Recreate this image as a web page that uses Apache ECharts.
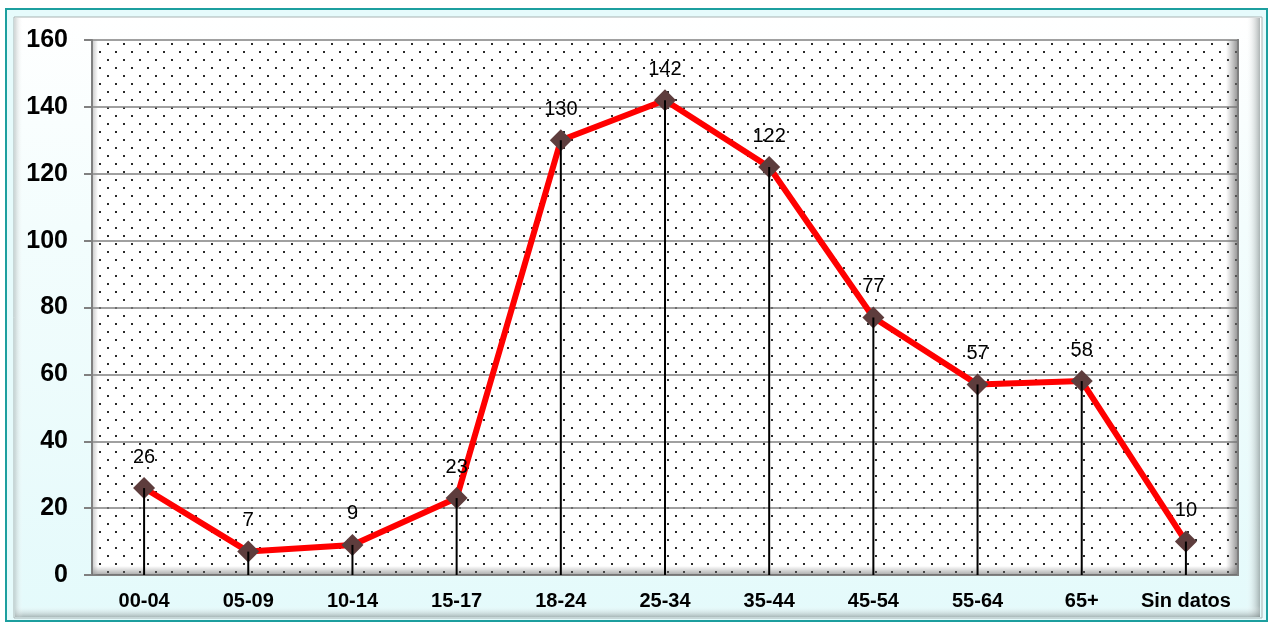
<!DOCTYPE html>
<html>
<head>
<meta charset="utf-8">
<script src="https://cdn.jsdelivr.net/npm/echarts@6/dist/echarts.min.js"></script>
<style>
html,body{margin:0;padding:0;background:#fff;}
#chart{width:1271px;height:623px;}
</style>
</head>
<body>
<div id="chart"></div>
<script>
const categories = ['00-04','05-09','10-14','15-17','18-24','25-34','35-44','45-54','55-64','65+','Sin datos'];
const values = [26, 7, 9, 23, 130, 142, 122, 77, 57, 58, 10];
const yMin = 0, yMax = 160, yStep = 20;

// dotted pattern for plot area
const pat = document.createElement('canvas');
pat.width = 16; pat.height = 16;
const pc = pat.getContext('2d');
pc.fillStyle = '#ffffff';
pc.fillRect(0, 0, 16, 16);
pc.fillStyle = '#2a2a2a';
pc.fillRect(3, 3, 2, 2);
pc.fillRect(11, 11, 2, 2);

const FONT = '"Liberation Sans", Arial, sans-serif';
const chart = echarts.init(document.getElementById('chart'), null, {renderer: 'canvas'});

const grid = {left: 92, top: 40, right: 33, bottom: 48};

chart.setOption({
  animation: false,
  backgroundColor: '#ffffff',
  graphic: [
    {type: 'rect', z: -10, shape: {x: 6, y: 9, width: 1261, height: 612},
     style: {fill: '#e6fbfc', stroke: '#1c9f9f', lineWidth: 2}},
    {type: 'rect', z: -9, shape: {x: 14, y: 17, width: 1248, height: 601},
     style: {fill: new echarts.graphic.LinearGradient(0, 0, 0, 1, [
        {offset: 0, color: '#ffffff'}, {offset: 0.35, color: '#f3fdfd'}, {offset: 1, color: '#e4fafb'}]),
       stroke: '#a9b3b3', lineWidth: 1}},
    {type: 'rect', z: -8, shape: {x: 1246, y: 18, width: 14, height: 599},
     style: {fill: new echarts.graphic.LinearGradient(0, 0, 1, 0, [
        {offset: 0, color: 'rgba(255,255,255,0)'}, {offset: 1, color: 'rgba(120,130,130,0.6)'}])}},
    {type: 'rect', z: -8, shape: {x: 15, y: 606, width: 1245, height: 11},
     style: {fill: new echarts.graphic.LinearGradient(0, 0, 0, 1, [
        {offset: 0, color: 'rgba(255,255,255,0)'}, {offset: 1, color: 'rgba(120,130,130,0.55)'}])}},
    {type: 'rect', z: -8, shape: {x: 15, y: 18, width: 8, height: 599},
     style: {fill: new echarts.graphic.LinearGradient(0, 0, 1, 0, [
        {offset: 0, color: 'rgba(170,180,180,0.5)'}, {offset: 1, color: 'rgba(255,255,255,0)'}])}},
    {type: 'rect', z: 1, silent: true, shape: {x: 1226, y: 40, width: 12, height: 535},
     style: {fill: new echarts.graphic.LinearGradient(0, 0, 1, 0, [
        {offset: 0, color: 'rgba(120,120,120,0)'}, {offset: 1, color: 'rgba(110,110,110,0.75)'}])}},
    {type: 'rect', z: 1, silent: true, shape: {x: 92, y: 566, width: 1146, height: 9},
     style: {fill: new echarts.graphic.LinearGradient(0, 0, 0, 1, [
        {offset: 0, color: 'rgba(120,120,120,0)'}, {offset: 1, color: 'rgba(110,110,110,0.6)'}])}},
    {type: 'rect', z: 1, silent: true, shape: {x: 93, y: 40, width: 5, height: 535},
     style: {fill: new echarts.graphic.LinearGradient(0, 0, 1, 0, [
        {offset: 0, color: 'rgba(150,150,150,0.45)'}, {offset: 1, color: 'rgba(150,150,150,0)'}])}},
    {type: 'rect', z: 1, silent: true, shape: {x: 1237, y: 39, width: 2, height: 537},
     style: {fill: '#808080'}}
  ],
  grid: Object.assign({show: true, borderWidth: 0, backgroundColor: {image: pat, repeat: 'repeat'}}, grid),
  xAxis: {
    type: 'category',
    data: categories,
    boundaryGap: true,
    axisLine: {lineStyle: {color: '#808080', width: 2}},
    axisTick: {show: false},
    splitLine: {show: false},
    axisLabel: {interval: 0, color: '#000', fontWeight: 'bold', fontSize: 20, fontFamily: FONT, margin: 16}
  },
  yAxis: {
    type: 'value',
    min: yMin, max: yMax, interval: yStep,
    axisLine: {show: true, lineStyle: {color: '#808080', width: 2}},
    axisTick: {show: true, length: 8, lineStyle: {color: '#808080', width: 2}},
    splitLine: {show: true, lineStyle: {color: '#808080', width: 1.5}},
    axisLabel: {color: '#000', fontWeight: 'bold', fontSize: 25, fontFamily: FONT, margin: 24}
  },
  series: [
    {
      type: 'line',
      data: values,
      z: 3,
      lineStyle: {color: '#ff0000', width: 6},
      symbol: 'diamond',
      symbolSize: [22, 22],
      itemStyle: {color: '#5e3d3d', borderWidth: 0},
      label: {show: true, position: 'top', distance: 10, color: '#000', fontSize: 20, fontFamily: FONT}
    },
    {
      type: 'bar',
      data: values,
      z: 4,
      silent: true,
      barWidth: 2,
      itemStyle: {color: '#000'},
      label: {show: false}
    }
  ]
});
</script>
</body>
</html>
